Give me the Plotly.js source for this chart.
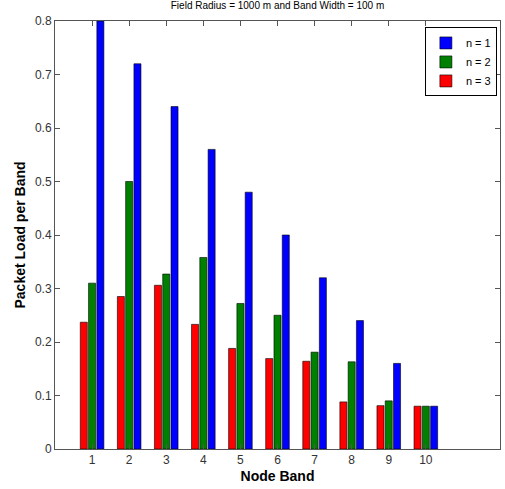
<!DOCTYPE html>
<html>
<head>
<meta charset="utf-8">
<script src="https://cdn.plot.ly/plotly-3.0.1.min.js"></script>
<style>html,body{margin:0;padding:0;background:#fff;}#chart{width:505px;height:489px;}</style>
</head>
<body>
<div id="chart"></div>
<script>
const bands = [1, 2, 3, 4, 5, 6, 7, 8, 9, 10];
const tickLabels = ["1", "2", "3", "4", "5", "6", "7", "8", "9", "10"];
const loadN1 = [0.80, 0.72, 0.64, 0.56, 0.48, 0.40, 0.32, 0.24, 0.16, 0.08];
const loadN2 = [0.310, 0.500, 0.327, 0.358, 0.272, 0.250, 0.181, 0.163, 0.090, 0.080];
const loadN3 = [0.237, 0.285, 0.306, 0.233, 0.188, 0.169, 0.164, 0.088, 0.081, 0.080];

const line = {color: '#000000', width: 0.6};
const traces = [
  {type: 'bar', name: 'n = 3', x: bands, y: loadN3, marker: {color: '#FF0000', line: line}},
  {type: 'bar', name: 'n = 2', x: bands, y: loadN2, marker: {color: '#008000', line: line}},
  {type: 'bar', name: 'n = 1', x: bands, y: loadN1, marker: {color: '#0000FF', line: line}}
];

const layout = {
  width: 505, height: 489,
  margin: {l: 55, r: 5, t: 21, b: 40},
  paper_bgcolor: '#ffffff', plot_bgcolor: '#ffffff',
  font: {family: 'Liberation Sans, Arial, sans-serif', color: '#000'},
  title: {text: 'Field Radius = 1000 m and Band Width = 100 m', font: {size: 10, color: '#000'}, x: 0.5, xref: 'paper', y: 0.995, yanchor: 'top'},
  barmode: 'group', bargap: 0.33, bargroupgap: 0.15,
  xaxis: {
    range: [0, 12], tickvals: bands, ticktext: tickLabels,
    showgrid: false, zeroline: false, showline: true, linecolor: '#555', linewidth: 1,
    mirror: 'ticks', ticks: 'inside', ticklen: 5, tickcolor: '#555',
    tickfont: {size: 12, color: '#333'},
    title: {text: 'Node Band', font: {size: 14, color: '#000', weight: 'bold'}, standoff: 4}
  },
  yaxis: {
    range: [0, 0.8], tickvals: [0, 0.1, 0.2, 0.3, 0.4, 0.5, 0.6, 0.7, 0.8],
    ticktext: ['0', '0.1', '0.2', '0.3', '0.4', '0.5', '0.6', '0.7', '0.8'],
    showgrid: false, zeroline: false, showline: true, linecolor: '#555', linewidth: 1,
    mirror: 'ticks', ticks: 'inside', ticklen: 5, tickcolor: '#555',
    tickfont: {size: 12, color: '#333'},
    title: {text: 'Packet Load per Band', font: {size: 14, color: '#000', weight: 'bold'}, standoff: 6}
  },
  legend: {
    x: 0.993, xanchor: 'right', y: 0.985, yanchor: 'top',
    bgcolor: '#ffffff', bordercolor: '#000', borderwidth: 1,
    traceorder: 'reversed', font: {size: 11, color: '#000'},
    itemwidth: 30, tracegroupgap: 0
  },
  showlegend: true
};

Plotly.newPlot('chart', traces, layout, {displayModeBar: false, staticPlot: true});
</script>
</body>
</html>
